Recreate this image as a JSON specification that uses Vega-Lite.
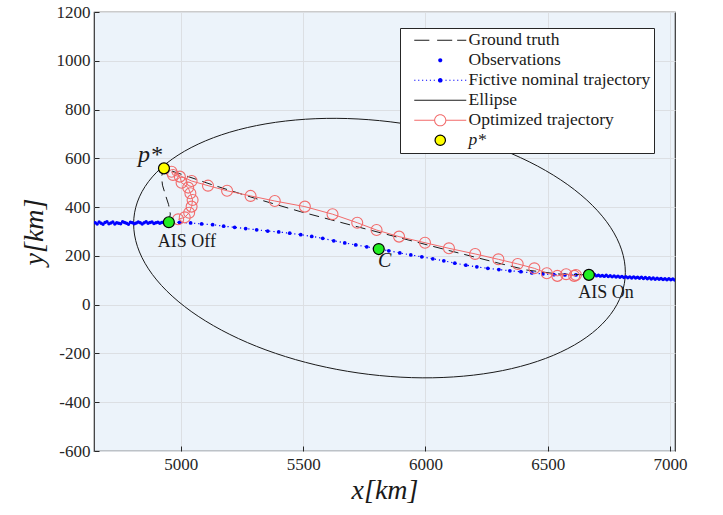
{
  "$schema": "https://vega.github.io/schema/vega-lite/v6.json",
  "width": 581,
  "height": 439,
  "autosize": {"type": "none"},
  "padding": {"left": 94, "top": 12, "right": 48, "bottom": 64},
  "background": "white",
  "config": {
    "view": {"fill": "#ecf3fa", "stroke": "#333333", "strokeWidth": 1.2},
    "axis": {
      "labelFont": "Liberation Serif",
      "labelFontSize": 17,
      "labelColor": "#262626",
      "titleFont": "Liberation Serif",
      "titleFontSize": 28,
      "titleFontStyle": "italic",
      "titleFontWeight": "normal",
      "titleColor": "#1a1a1a",
      "gridColor": "#dcdfe3",
      "gridWidth": 1,
      "domain": false,
      "tickColor": "#262626",
      "tickSize": -5,
      "tickWidth": 1
    }
  },
  "datasets": {
    "ellipse": [
      {"t": 0, "x": 6817, "y": 132.5}, {"t": 10, "x": 6801.7, "y": 224.7}, {"t": 20, "x": 6756.4, "y": 317.2},
      {"t": 30, "x": 6682.3, "y": 407.1}, {"t": 40, "x": 6581.8, "y": 491.7}, {"t": 50, "x": 6458, "y": 568.3},
      {"t": 60, "x": 6314.5, "y": 634.8}, {"t": 70, "x": 6155.7, "y": 689.1}, {"t": 80, "x": 5986.5, "y": 729.4},
      {"t": 90, "x": 5812, "y": 754.6}, {"t": 100, "x": 5637.5, "y": 764}, {"t": 110, "x": 5468.3, "y": 757.1},
      {"t": 120, "x": 5309.5, "y": 734.3}, {"t": 130, "x": 5166, "y": 696.3}, {"t": 140, "x": 5042.2, "y": 644.1},
      {"t": 150, "x": 4941.7, "y": 579.5}, {"t": 160, "x": 4867.6, "y": 504.2}, {"t": 170, "x": 4822.3, "y": 420.7},
      {"t": 180, "x": 4807, "y": 331.5}, {"t": 190, "x": 4822.3, "y": 239.3}, {"t": 200, "x": 4867.6, "y": 146.8},
      {"t": 210, "x": 4941.7, "y": 56.9}, {"t": 220, "x": 5042.2, "y": -27.7}, {"t": 230, "x": 5166, "y": -104.3},
      {"t": 240, "x": 5309.5, "y": -170.9}, {"t": 250, "x": 5468.3, "y": -225.1}, {"t": 260, "x": 5637.5, "y": -265.4},
      {"t": 270, "x": 5812, "y": -290.6}, {"t": 280, "x": 5986.5, "y": -300}, {"t": 290, "x": 6155.7, "y": -293.1},
      {"t": 300, "x": 6314.5, "y": -270.4}, {"t": 310, "x": 6458, "y": -232.3}, {"t": 320, "x": 6581.8, "y": -180.1},
      {"t": 330, "x": 6682.3, "y": -115.5}, {"t": 340, "x": 6756.4, "y": -40.2}, {"t": 350, "x": 6801.7, "y": 43.3}
    ],
    "obs": [
      {"x": 4650, "y": 336}, {"x": 4658, "y": 331}, {"x": 4666, "y": 339}, {"x": 4674, "y": 334}, {"x": 4682, "y": 330},
      {"x": 4690, "y": 337}, {"x": 4698, "y": 340}, {"x": 4706, "y": 332}, {"x": 4714, "y": 335}, {"x": 4722, "y": 339},
      {"x": 4730, "y": 331}, {"x": 4738, "y": 336}, {"x": 4746, "y": 334}, {"x": 4754, "y": 332}, {"x": 4762, "y": 340},
      {"x": 4770, "y": 337}, {"x": 4778, "y": 334}, {"x": 4786, "y": 330}, {"x": 4794, "y": 338}, {"x": 4802, "y": 336},
      {"x": 4810, "y": 332}, {"x": 4818, "y": 335}, {"x": 4826, "y": 339}, {"x": 4834, "y": 336}, {"x": 4842, "y": 331},
      {"x": 4850, "y": 336}, {"x": 4858, "y": 340}, {"x": 4866, "y": 334}, {"x": 4874, "y": 337}, {"x": 4882, "y": 339},
      {"x": 4890, "y": 333}, {"x": 4898, "y": 336}, {"x": 4906, "y": 338}, {"x": 4914, "y": 334}, {"x": 4922, "y": 337},
      {"x": 4930, "y": 339}, {"x": 4938, "y": 335}, {"x": 4946, "y": 337},
      {"x": 6675, "y": 123}, {"x": 6683, "y": 119}, {"x": 6691, "y": 124}, {"x": 6699, "y": 118}, {"x": 6707, "y": 121},
      {"x": 6715, "y": 117}, {"x": 6723, "y": 120}, {"x": 6731, "y": 116}, {"x": 6739, "y": 121}, {"x": 6747, "y": 115},
      {"x": 6755, "y": 119}, {"x": 6763, "y": 114}, {"x": 6771, "y": 118}, {"x": 6779, "y": 113}, {"x": 6787, "y": 117},
      {"x": 6795, "y": 112}, {"x": 6803, "y": 116}, {"x": 6811, "y": 111}, {"x": 6819, "y": 115}, {"x": 6827, "y": 110},
      {"x": 6835, "y": 114}, {"x": 6843, "y": 109}, {"x": 6851, "y": 114}, {"x": 6859, "y": 109}, {"x": 6867, "y": 112},
      {"x": 6875, "y": 108}, {"x": 6883, "y": 112}, {"x": 6891, "y": 107}, {"x": 6899, "y": 111}, {"x": 6907, "y": 106},
      {"x": 6915, "y": 110}, {"x": 6923, "y": 105}, {"x": 6931, "y": 109}, {"x": 6939, "y": 104}, {"x": 6947, "y": 108},
      {"x": 6955, "y": 104}, {"x": 6963, "y": 107}, {"x": 6971, "y": 103}, {"x": 6979, "y": 106}, {"x": 6987, "y": 102},
      {"x": 6995, "y": 106}, {"x": 7003, "y": 102}, {"x": 7011, "y": 105}, {"x": 7019, "y": 101}
    ],
    "fictive": [
      {"i": 0, "x": 4951, "y": 338}, {"i": 1, "x": 4995, "y": 337}, {"i": 2, "x": 5040, "y": 335}, {"i": 3, "x": 5085, "y": 331},
      {"i": 4, "x": 5130, "y": 328}, {"i": 5, "x": 5175, "y": 322}, {"i": 6, "x": 5220, "y": 317}, {"i": 7, "x": 5265, "y": 312},
      {"i": 8, "x": 5310, "y": 307}, {"i": 9, "x": 5355, "y": 302}, {"i": 10, "x": 5400, "y": 298}, {"i": 11, "x": 5445, "y": 293},
      {"i": 12, "x": 5490, "y": 287}, {"i": 13, "x": 5535, "y": 280}, {"i": 14, "x": 5580, "y": 272}, {"i": 15, "x": 5625, "y": 262},
      {"i": 16, "x": 5670, "y": 253}, {"i": 17, "x": 5715, "y": 245}, {"i": 18, "x": 5760, "y": 237}, {"i": 19, "x": 5805, "y": 229},
      {"i": 20, "x": 5850, "y": 221}, {"i": 21, "x": 5895, "y": 212}, {"i": 22, "x": 5940, "y": 204}, {"i": 23, "x": 5985, "y": 196},
      {"i": 24, "x": 6030, "y": 188}, {"i": 25, "x": 6075, "y": 180}, {"i": 26, "x": 6120, "y": 170}, {"i": 27, "x": 6165, "y": 162},
      {"i": 28, "x": 6210, "y": 155}, {"i": 29, "x": 6255, "y": 149}, {"i": 30, "x": 6300, "y": 144}, {"i": 31, "x": 6345, "y": 139},
      {"i": 32, "x": 6390, "y": 135}, {"i": 33, "x": 6435, "y": 130}, {"i": 34, "x": 6480, "y": 126}, {"i": 35, "x": 6525, "y": 123},
      {"i": 36, "x": 6570, "y": 122}, {"i": 37, "x": 6615, "y": 122}, {"i": 38, "x": 6668, "y": 122}
    ],
    "truth": [
      {"i": 0, "x": 4951, "y": 338}, {"i": 1, "x": 4957, "y": 372}, {"i": 2, "x": 4950, "y": 410}, {"i": 3, "x": 4937, "y": 450},
      {"i": 4, "x": 4925, "y": 490}, {"i": 5, "x": 4921, "y": 525}, {"i": 6, "x": 4931, "y": 559}, {"i": 7, "x": 5130, "y": 491},
      {"i": 8, "x": 5300, "y": 437}, {"i": 9, "x": 5490, "y": 381}, {"i": 10, "x": 5700, "y": 325}, {"i": 11, "x": 5900, "y": 273},
      {"i": 12, "x": 6100, "y": 221}, {"i": 13, "x": 6300, "y": 170}, {"i": 14, "x": 6414, "y": 142}, {"i": 15, "x": 6540, "y": 126},
      {"i": 16, "x": 6668, "y": 122}
    ],
    "optim": [
      {"i": 1, "x": 4989, "y": 350}, {"i": 2, "x": 5016, "y": 358}, {"i": 3, "x": 5034, "y": 377}, {"i": 4, "x": 5044, "y": 402},
      {"i": 5, "x": 5048, "y": 429}, {"i": 6, "x": 5039, "y": 457}, {"i": 7, "x": 5030, "y": 480}, {"i": 8, "x": 5003, "y": 500},
      {"i": 9, "x": 4996, "y": 525}, {"i": 10, "x": 4968, "y": 532}, {"i": 11, "x": 4962, "y": 545}, {"i": 12, "x": 5044, "y": 507},
      {"i": 13, "x": 5111, "y": 488}, {"i": 14, "x": 5189, "y": 467}, {"i": 15, "x": 5285, "y": 446}, {"i": 16, "x": 5384, "y": 425},
      {"i": 17, "x": 5507, "y": 402}, {"i": 18, "x": 5620, "y": 371}, {"i": 19, "x": 5721, "y": 336}, {"i": 20, "x": 5800, "y": 306},
      {"i": 21, "x": 5892, "y": 279}, {"i": 22, "x": 5998, "y": 254}, {"i": 23, "x": 6096, "y": 231}, {"i": 24, "x": 6203, "y": 208},
      {"i": 25, "x": 6298, "y": 186}, {"i": 26, "x": 6377, "y": 167}, {"i": 27, "x": 6445, "y": 149}, {"i": 28, "x": 6496, "y": 129},
      {"i": 29, "x": 6539, "y": 118}, {"i": 30, "x": 6575, "y": 125}, {"i": 31, "x": 6608, "y": 118}, {"i": 32, "x": 6615, "y": 122}
    ],
    "keys": [
      {"k": "off", "x": 4951, "y": 338}, {"k": "c", "x": 5809, "y": 228},
      {"k": "on", "x": 6668, "y": 122}, {"k": "p", "x": 4931, "y": 559}
    ],
    "legend": [
      {"series": "Ground truth"}, {"series": "Observations"}, {"series": "Fictive nominal trajectory"},
      {"series": "Ellipse"}, {"series": "Optimized trajectory"}, {"series": "p*"}
    ]
  },
  "encoding": {
    "x": {
      "field": "x", "type": "quantitative",
      "scale": {"domain": [4645, 7020], "nice": false, "zero": false},
      "axis": {"values": [5000, 5500, 6000, 6500, 7000], "title": "x[km]", "labelExpr": "'' + datum.value", "labelPadding": 10, "titlePadding": 4}
    },
    "y": {
      "field": "y", "type": "quantitative",
      "scale": {"domain": [-600, 1200], "nice": false, "zero": false},
      "axis": {"values": [-600, -400, -200, 0, 200, 400, 600, 800, 1000, 1200], "title": "y[km]", "labelExpr": "'' + datum.value", "labelPadding": 9, "titlePadding": 8}
    }
  },
  "layer": [
    {
      "data": {"name": "ellipse"},
      "mark": {"type": "line", "color": "#1a1a1a", "strokeWidth": 1, "interpolate": "cardinal-closed"},
      "encoding": {"order": {"field": "t", "type": "quantitative"}}
    },
    {
      "data": {"name": "obs"},
      "mark": {"type": "point", "filled": true, "color": "#0000ff", "size": 12, "opacity": 1, "clip": true},
      "encoding": {}
    },
    {
      "data": {"name": "fictive"},
      "mark": {"type": "line", "color": "#0000ff", "strokeWidth": 1.2, "strokeDash": [1.2, 3]},
      "encoding": {"order": {"field": "i", "type": "quantitative"}}
    },
    {
      "data": {"name": "fictive"},
      "mark": {"type": "point", "filled": true, "color": "#0000ff", "size": 14, "opacity": 1},
      "encoding": {}
    },
    {
      "data": {"name": "truth"},
      "mark": {"type": "line", "color": "#1a1a1a", "strokeWidth": 1, "strokeDash": [10, 6]},
      "encoding": {"order": {"field": "i", "type": "quantitative"}}
    },
    {
      "data": {"name": "optim"},
      "mark": {"type": "line", "color": "#f26b6b", "strokeWidth": 1},
      "encoding": {"order": {"field": "i", "type": "quantitative"}}
    },
    {
      "data": {"name": "optim"},
      "mark": {"type": "point", "filled": false, "color": "#f26b6b", "size": 120, "strokeWidth": 1.1, "opacity": 1},
      "encoding": {}
    },
    {
      "data": {"name": "keys"},
      "transform": [{"filter": "datum.k != 'p'"}],
      "mark": {"type": "point", "filled": true, "fill": "#22ee22", "stroke": "#000000", "strokeWidth": 1.2, "size": 120, "opacity": 1},
      "encoding": {}
    },
    {
      "data": {"name": "keys"},
      "transform": [{"filter": "datum.k == 'p'"}],
      "mark": {"type": "point", "filled": true, "fill": "#ffff00", "stroke": "#000000", "strokeWidth": 1.2, "size": 120, "opacity": 1},
      "encoding": {}
    },
    {
      "data": {"name": "keys"},
      "transform": [{"filter": "datum.k == 'off'"}],
      "mark": {"type": "text", "text": "AIS Off", "font": "Liberation Serif", "fontSize": 18, "color": "#1a1a1a", "align": "center", "baseline": "alphabetic", "dx": 18, "dy": 25},
      "encoding": {}
    },
    {
      "data": {"name": "keys"},
      "transform": [{"filter": "datum.k == 'on'"}],
      "mark": {"type": "text", "text": "AIS On", "font": "Liberation Serif", "fontSize": 18, "color": "#1a1a1a", "align": "center", "baseline": "alphabetic", "dx": 17, "dy": 23},
      "encoding": {}
    },
    {
      "data": {"name": "keys"},
      "transform": [{"filter": "datum.k == 'c'"}],
      "mark": {"type": "text", "text": "C", "font": "Liberation Serif", "fontStyle": "italic", "fontSize": 20, "color": "#1a1a1a", "align": "center", "baseline": "alphabetic", "dx": 6, "dy": 18},
      "encoding": {}
    },
    {
      "data": {"name": "keys"},
      "transform": [{"filter": "datum.k == 'p'"}],
      "mark": {"type": "text", "text": "p*", "font": "Liberation Serif", "fontStyle": "italic", "fontSize": 24, "color": "#1a1a1a", "align": "right", "baseline": "alphabetic", "dx": -2, "dy": -6},
      "encoding": {}
    },
    {
      "data": {"name": "legend"},
      "mark": {"type": "point", "filled": true, "size": 2704, "opacity": 0, "strokeWidth": 0},
      "encoding": {
        "x": {"datum": 5000, "type": "quantitative"},
        "y": {"datum": 0, "type": "quantitative"},
        "fill": {
          "field": "series", "type": "nominal",
          "scale": {
            "domain": ["Ground truth", "Observations", "Fictive nominal trajectory", "Ellipse", "Optimized trajectory", "p*"],
            "range": ["#1a1a1a", "#0000ff", "#0000ff", "#1a1a1a", "#f26b6b", "#ffff00"]
          },
          "legend": {
            "orient": "none", "legendX": 306, "legendY": 16, "title": null,
            "fillColor": "#ffffff", "strokeColor": "#262626", "padding": 3.5, "symbolOffset": 28,
            "symbolSize": 2704, "symbolStrokeWidth": 0, "labelFont": "Liberation Serif", "labelFontSize": 17.5,
            "labelColor": "#1a1a1a", "labelOffset": 19.5, "labelLimit": 400, "rowPadding": 1,
            "encode": {
              "symbols": {"update": {
                "opacity": {"value": 1},
                "fillOpacity": {"value": 1},
                "stroke": {"signal": "datum.value === 'p*' ? '#000000' : 'transparent'"},
                "strokeWidth": {"signal": "datum.value === 'p*' ? 1.2 : 0"}
              }},
              "labels": {"update": {
                "fontStyle": {"signal": "datum.value === 'p*' ? 'italic' : 'normal'"}
              }}
            }
          }
        },
        "shape": {
          "field": "series", "type": "nominal",
          "scale": {
            "domain": ["Ground truth", "Observations", "Fictive nominal trajectory", "Ellipse", "Optimized trajectory", "p*"],
            "range": [
              "M-1,-0.023H-0.42V0.023H-1Z M-0.12,-0.023H0.46V0.023H-0.12Z M0.65,-0.023H1V0.023H0.65Z",
              "M0.08,0A0.08,0.08 0 1,1 -0.08,0A0.08,0.08 0 1,1 0.08,0Z",
              "M-1,-0.022h0.045v0.045h-0.045z M-0.85,-0.022h0.045v0.045h-0.045z M-0.7,-0.022h0.045v0.045h-0.045z M-0.55,-0.022h0.045v0.045h-0.045z M-0.4,-0.022h0.045v0.045h-0.045z M-0.25,-0.022h0.045v0.045h-0.045z M0.2,-0.022h0.045v0.045h-0.045z M0.35,-0.022h0.045v0.045h-0.045z M0.5,-0.022h0.045v0.045h-0.045z M0.65,-0.022h0.045v0.045h-0.045z M0.8,-0.022h0.045v0.045h-0.045z M0.955,-0.022h0.045v0.045h-0.045z M0.09,0A0.09,0.09 0 1,1 -0.09,0A0.09,0.09 0 1,1 0.09,0Z",
              "M-1,-0.022H1V0.022H-1Z",
              "M-1,-0.022H-0.23V0.022H-1Z M0.23,-0.022H1V0.022H0.23Z M0.235,0A0.235,0.235 0 1,1 -0.235,0A0.235,0.235 0 1,1 0.235,0Z M0.195,0A0.195,0.195 0 1,0 -0.195,0A0.195,0.195 0 1,0 0.195,0Z",
              "M0.2,0A0.2,0.2 0 1,1 -0.2,0A0.2,0.2 0 1,1 0.2,0Z"
            ]
          }
        }
      }
    }
  ]
}
